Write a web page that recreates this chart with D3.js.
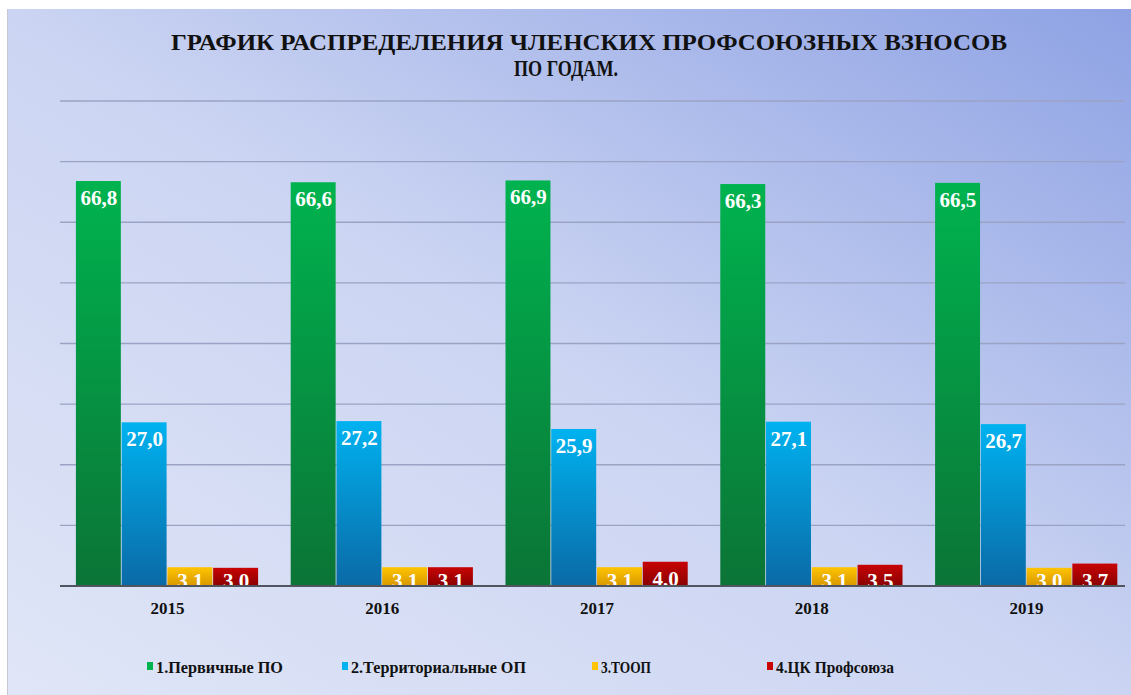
<!DOCTYPE html>
<html>
<head>
<meta charset="utf-8">
<script src="https://cdn.jsdelivr.net/npm/d3@7"></script>
<style>
 body{margin:0;background:#fff;}
</style>
</head>
<body>
<div id="chart"></div>
<script>
(function(){

var years = ["2015", "2016", "2017", "2018", "2019"];
var seriesNames = ["1.Первичные ПО", "2.Территориальные ОП", "3.ТООП", "4.ЦК Профсоюза"];
var primary = [66.8, 66.6, 66.9, 66.3, 66.5];
var territorial = [27.0, 27.2, 25.9, 27.1, 26.7];
var toop = [3.1, 3.1, 3.1, 3.1, 3.0];
var ck = [3.0, 3.1, 4.0, 3.5, 3.7];
var yTicks = [0, 10, 20, 30, 40, 50, 60, 70, 80];

var width = 1131,
	height = 695;
var serif = "'Liberation Serif', 'Times New Roman', serif";

var series = [primary, territorial, toop, ck];
var colors = [
	{top:"#00b34f", bottom:"#0b7436"},
	{top:"#00b2f0", bottom:"#0a6aa6"},
	{top:"#ffc400", bottom:"#d89800"},
	{top:"#c80404", bottom:"#8a0000"}
];

var svg = d3.select("#chart")
	.append("svg")
	.attr("width", width)
	.attr("height", height)
	.attr("font-family", serif)
	.attr("font-weight", "bold")

var defs = svg.append("defs")

var bg = defs.append("linearGradient")
	.attr("id", "bg")
	.attr("x1", "0").attr("y1", "1")
	.attr("x2", "1").attr("y2", "0")
bg.append("stop").attr("offset", "0").attr("stop-color", "#e0e6f7")
bg.append("stop").attr("offset", "0.5").attr("stop-color", "#cbd4f2")
bg.append("stop").attr("offset", "1").attr("stop-color", "#8ea2e4")

colors.forEach(function(c, i){
	var g = defs.append("linearGradient")
		.attr("id", "bar" + i)
		.attr("x1", "0").attr("y1", "0")
		.attr("x2", "0").attr("y2", "1")
	g.append("stop").attr("offset", "0").attr("stop-color", c.top)
	g.append("stop").attr("offset", "1").attr("stop-color", c.bottom)
})

// slide panel
svg.append("rect")
	.attr("x", 7)
	.attr("y", 9)
	.attr("width", width - 7)
	.attr("height", height - 9)
	.attr("fill", "url(#bg)")
svg.append("line")
	.attr("x1", 7.5).attr("x2", 7.5)
	.attr("y1", 9).attr("y2", height)
	.attr("stroke", "#c4c8d4")
	.attr("stroke-width", 1)

// title (condensed, as on the slide)
var title = svg.append("text")
	.attr("text-anchor", "middle")
	.attr("font-size", 23)
	.attr("fill", "#111")
title.append("tspan")
	.attr("x", 589).attr("y", 50)
	.attr("textLength", 836)
	.attr("lengthAdjust", "spacingAndGlyphs")
	.text("ГРАФИК РАСПРЕДЕЛЕНИЯ ЧЛЕНСКИХ ПРОФСОЮЗНЫХ ВЗНОСОВ")
title.append("tspan")
	.attr("x", 566).attr("y", 76)
	.attr("textLength", 104)
	.attr("lengthAdjust", "spacingAndGlyphs")
	.text("ПО ГОДАМ.")

// scales
var x0 = d3.scaleBand()
	.domain(years)
	.range([60, 1134])
	.paddingInner(0.148)
	.paddingOuter(0.074)

var x1 = d3.scaleBand()
	.domain(d3.range(series.length))
	.range([0, x0.bandwidth()])

var y = d3.scaleLinear()
	.domain([0, 80])
	.range([586, 101])

// gridlines
svg.append("g")
	.selectAll("line")
	.data(yTicks.slice(1))
	.enter()
	.append("line")
	.attr("x1", 60)
	.attr("x2", 1125)
	.attr("y1", function(d){ return y(d) })
	.attr("y2", function(d){ return y(d) })
	.attr("stroke", "#9ba3c4")
	.attr("stroke-width", 1.3)

// bars
var rows = [];
years.forEach(function(yr, i){
	series.forEach(function(s, j){
		rows.push({year: yr, k: j, value: s[i]})
	})
})

svg.append("g")
	.selectAll("rect")
	.data(rows)
	.enter()
	.append("rect")
	.attr("x", function(d){ return x0(d.year) + x1(d.k) })
	.attr("y", function(d){ return y(d.value) })
	.attr("width", x1.bandwidth() - 0.8)
	.attr("height", function(d){ return y(0) - y(d.value) })
	.attr("fill", function(d){ return "url(#bar" + d.k + ")" })

// value labels, clipped at the baseline
defs.append("clipPath")
	.attr("id", "plotclip")
	.append("rect")
	.attr("x", 0).attr("y", 0)
	.attr("width", width)
	.attr("height", y(0))

svg.append("g")
	.attr("clip-path", "url(#plotclip)")
	.selectAll("text")
	.data(rows)
	.enter()
	.append("text")
	.attr("x", function(d){ return x0(d.year) + x1(d.k) + x1.bandwidth() / 2 })
	.attr("y", function(d){ return Math.min(y(d.value) + 24, y(0) + 2) })
	.attr("text-anchor", "middle")
	.attr("font-size", 21)
	.attr("fill", "#fff")
	.text(function(d){ return d3.format(".1f")(d.value).replace(".", ",") })

// baseline axis
svg.append("line")
	.attr("x1", 60)
	.attr("x2", 1125)
	.attr("y1", y(0))
	.attr("y2", y(0))
	.attr("stroke", "#505560")
	.attr("stroke-width", 2)

svg.append("g")
	.selectAll("text")
	.data(years)
	.enter()
	.append("text")
	.attr("x", function(d){ return x0(d) + x0.bandwidth() / 2 })
	.attr("y", 614)
	.attr("text-anchor", "middle")
	.attr("font-size", 17)
	.attr("fill", "#111")
	.text(function(d){ return d })

// legend
var legendX = [147, 342, 592, 767];
var legendW = [127, 175, 50, 118];
var legend = svg.append("g")
	.selectAll("g")
	.data(seriesNames)
	.enter()
	.append("g")
	.attr("transform", function(d, i){ return "translate(" + legendX[i] + ",0)" })

legend.append("rect")
	.attr("x", 0)
	.attr("y", 662)
	.attr("width", 6)
	.attr("height", 8)
	.attr("fill", function(d, i){ return colors[i].top })

legend.append("text")
	.attr("x", 9)
	.attr("y", 673)
	.attr("font-size", 17)
	.attr("textLength", function(d, i){ return legendW[i] })
	.attr("lengthAdjust", "spacingAndGlyphs")
	.attr("fill", "#111")
	.text(function(d){ return d })

})();
</script>
</body>
</html>
